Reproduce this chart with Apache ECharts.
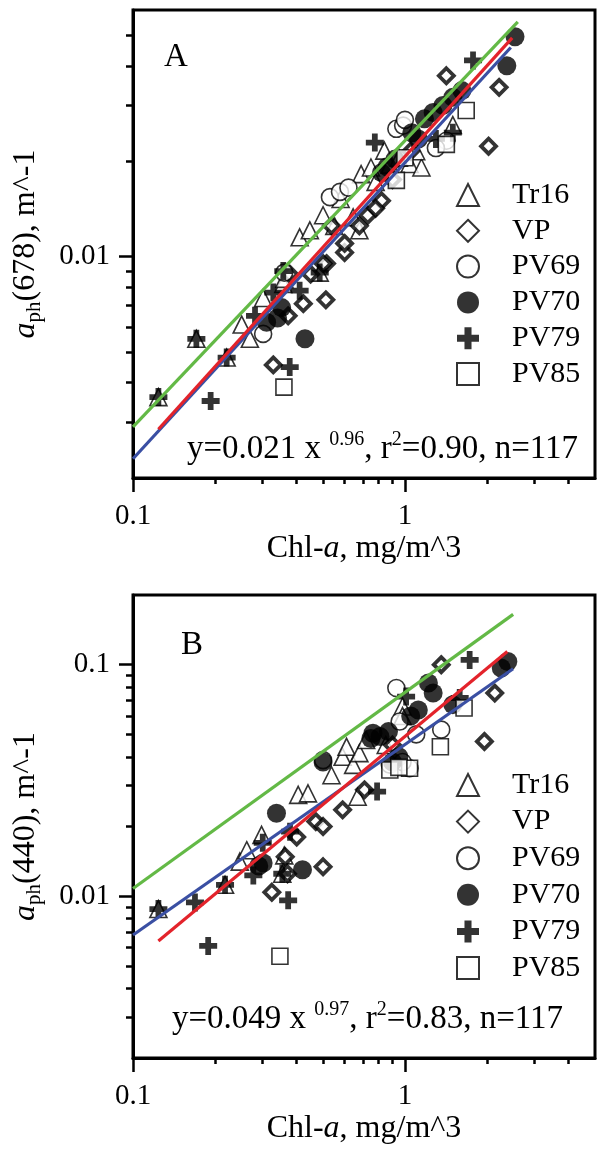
<!DOCTYPE html>
<html>
<head>
<meta charset="utf-8">
<script src="https://cdn.jsdelivr.net/npm/echarts@6/dist/echarts.min.js"></script>
<style>
  html, body { margin: 0; padding: 0; background: #fff; }
  #chart { width: 598px; height: 1151px; }
</style>
</head>
<body>
<div id="chart"></div>
<script>
// ---- axis ticks -------------------------------------------------------
const xMajorTicks = [0.1, 1];
const xMinorTicks = [0.2, 0.3, 0.4, 0.5, 0.6, 0.7, 0.8, 0.9, 2, 3, 4];
const yMajorTicksA = [0.01];
const yMinorTicksA = [0.003, 0.004, 0.005, 0.006, 0.007, 0.008, 0.009, 0.02, 0.03, 0.04, 0.05];
const yMajorTicksB = [0.01, 0.1];
const yMinorTicksB = [0.003, 0.004, 0.005, 0.006, 0.007, 0.008, 0.009,
                      0.02, 0.03, 0.04, 0.05, 0.06, 0.07, 0.08, 0.09];

// ---- panel A: aph(678) vs Chl-a ----------------------------------------
const tr16A = [[0.124,0.0036],[0.171,0.0055],[0.221,0.0048],[0.251,0.0061],[0.269,0.0055],
  [0.301,0.0074],[0.357,0.0082],[0.486,0.0089],[0.41,0.0115],[0.447,0.0121],[0.645,0.0133],
  [0.68,0.0121],[0.69,0.0182],[0.75,0.0191],[0.84,0.0216],[1.04,0.0196],[1.15,0.0191],
  [0.55,0.0125],[0.88,0.0195],[0.95,0.0205],[0.5,0.0135],[0.36,0.0085],[0.58,0.0152],[1.1,0.0215],
  [0.78,0.0172],[1.5,0.026]];
const vpA = [[0.328,0.00455],[0.372,0.0065],[0.377,0.0088],[0.423,0.0071],[0.512,0.0073],
  [0.515,0.0095],[0.6,0.0103],[0.5,0.0095],[0.537,0.0125],[0.6,0.011],[0.73,0.0135],
  [0.82,0.015],[1.42,0.0372],[2.22,0.0342],[2.03,0.0223],[0.45,0.0088],[0.9,0.0175],
  [1.05,0.0215],[0.68,0.0125],[0.78,0.0142]];
const pv69A = [[0.301,0.0057],[0.53,0.0154],[0.577,0.016],[0.62,0.0165],[0.93,0.0253],
  [0.985,0.0259],[1.42,0.0232],[1.0,0.027],[0.36,0.0089],[1.3,0.022]];
const pv70A = [[0.31,0.0062],[0.352,0.0069],[0.429,0.0055],[0.82,0.0184],[0.92,0.0203],
  [1.06,0.0246],[1.18,0.0272],[1.27,0.0285],[1.38,0.030],[1.5,0.0318],[1.62,0.0334],
  [2.37,0.040],[2.54,0.0494],[0.34,0.0064],[1.12,0.0235],[0.86,0.0192]];
const pv79A = [[0.124,0.0036],[0.171,0.0055],[0.193,0.0035],[0.221,0.0048],[0.281,0.0065],
  [0.328,0.0077],[0.357,0.009],[0.41,0.0078],[0.377,0.00448],[0.486,0.0089],[0.775,0.0229],
  [1.5,0.0246],[1.78,0.0416],[1.3,0.0235]];
const pv85A = [[0.359,0.00387],[1.68,0.0289],[1.42,0.0226],[0.93,0.0174],[1.0,0.0205]];
// regression / reference lines, end points
const greenA = [[0.1,0.0029],[2.6,0.055]];
const redA   = [[0.124,0.00285],[2.48,0.049]];
const blueA  = [[0.1,0.0023],[2.45,0.0457]];

// ---- panel B: aph(440) vs Chl-a ----------------------------------------
const tr16B = [[0.124,0.0088],[0.218,0.0112],[0.247,0.0141],[0.262,0.0158],[0.297,0.0184],
  [0.354,0.0125],[0.405,0.0274],[0.44,0.0278],[0.537,0.0333],[0.59,0.040],[0.61,0.0442],
  [0.645,0.0369],[0.67,0.0269],[0.68,0.0415],[0.72,0.0473],[0.98,0.066],[0.85,0.045],
  [0.36,0.015],[0.98,0.06]];
const vpB = [[0.324,0.0104],[0.363,0.0148],[0.5,0.0134],[0.47,0.021],[0.5,0.02],[0.59,0.0236],
  [0.71,0.0288],[1.36,0.1],[2.14,0.0754],[1.96,0.0466],[0.4,0.018],[0.37,0.0125],[0.9,0.045]];
const pv69B = [[0.5,0.0387],[0.93,0.0793],[0.956,0.0568],[1.36,0.0524],[0.88,0.037],
  [1.04,0.0357],[1.1,0.05],[0.98,0.038]];
const pv70B = [[0.301,0.0139],[0.337,0.0228],[0.42,0.013],[0.5,0.038],[0.763,0.0506],
  [0.81,0.0489],[0.87,0.0514],[1.12,0.0637],[1.22,0.0833],[1.27,0.0754],[1.5,0.0672],
  [2.26,0.0967],[2.39,0.1033],[0.29,0.0135],[0.75,0.048],[0.9,0.038],[0.95,0.04],[1.05,0.06]];
const pv79B = [[0.124,0.0088],[0.169,0.0094],[0.189,0.0061],[0.218,0.0112],[0.277,0.0123],
  [0.354,0.0125],[0.372,0.0096],[0.378,0.019],[0.79,0.0283],[1.01,0.0728],[1.59,0.0718],
  [1.73,0.1048],[0.3,0.017]];
const pv85B = [[0.347,0.0055],[1.35,0.0442],[1.65,0.065],[0.88,0.0351],[1.04,0.0357],[0.95,0.036]];
const greenB = [[0.1,0.0108],[2.5,0.165]];
const redB   = [[0.124,0.0064],[2.38,0.114]];
const blueB  = [[0.1,0.0068],[2.5,0.096]];

const seriesNames = ['Tr16', 'VP', 'PV69', 'PV70', 'PV79', 'PV85'];
const eqA = ['y=0.021 x ', '0.96', ', r', '2', '=0.90, n=117'];
const eqB = ['y=0.049 x ', '0.97', ', r', '2', '=0.83, n=117'];

// ---- styling ----------------------------------------------------------
const SERIF = 'Liberation Serif';
const PLUS = 'path://M34,0H66V34H100V66H66V100H34V66H0V34H34Z';
const markerStyle = {
  Tr16: { symbol: 'triangle', symbolSize: 17, itemStyle: { color: '#fff', borderColor: '#000', borderWidth: 1.6 } },
  VP:   { symbol: 'diamond',  symbolSize: 15, itemStyle: { color: '#fff', borderColor: '#000', borderWidth: 3.8 } },
  PV69: { symbol: 'circle',   symbolSize: 17, itemStyle: { color: '#fff', borderColor: '#000', borderWidth: 1.6 } },
  PV70: { symbol: 'circle',   symbolSize: 19, itemStyle: { color: '#000', borderWidth: 0 } },
  PV79: { symbol: PLUS,       symbolSize: 18, itemStyle: { color: '#000', borderWidth: 0 } },
  PV85: { symbol: 'rect',     symbolSize: 16, itemStyle: { color: '#fff', borderColor: '#000', borderWidth: 1.6 } }
};
const lineColor = { green: '#63b946', red: '#e3232b', blue: '#3a4fa3' };

function scatter(name, data, axisIdx) {
  const s = markerStyle[name];
  return {
    name, type: 'scatter', data,
    xAxisIndex: axisIdx, yAxisIndex: axisIdx,
    symbol: s.symbol, symbolSize: s.symbolSize, itemStyle: s.itemStyle,
    symbolKeepAspect: true, z: 2, silent: true
  };
}
function fitLine(id, data, color, axisIdx) {
  return {
    name: id, type: 'line', data, xAxisIndex: axisIdx, yAxisIndex: axisIdx,
    showSymbol: false, symbol: 'none', z: 4, silent: true,
    lineStyle: { color, width: 3.2 }
  };
}

const nameRich = {
  n: { fontFamily: SERIF, fontSize: 32, color: '#000', lineHeight: 38, verticalAlign: 'middle' },
  i: { fontFamily: SERIF, fontSize: 32, color: '#000', fontStyle: 'italic', lineHeight: 38, verticalAlign: 'middle' },
  s: { fontFamily: SERIF, fontSize: 21, color: '#000', lineHeight: 22, verticalAlign: 'bottom' }
};

function xAxes(grid) {
  return [
    { type: 'log', logBase: 10, gridIndex: grid, min: 0.1, max: 5, position: 'bottom',
      name: '{n|Chl-}{i|a}{n|, mg/m^3}', nameLocation: 'middle', nameGap: 52,
      nameTextStyle: { rich: nameRich },
      axisLine: { show: true, lineStyle: { color: '#000', width: 3 } },
      axisTick: { show: true, inside: false, length: 14, customValues: xMajorTicks, lineStyle: { color: '#000', width: 2.5 } },
      axisLabel: { show: true, customValues: xMajorTicks, margin: 24, fontFamily: SERIF, fontSize: 29, color: '#000',
        formatter: v => String(v) },
      splitLine: { show: false }, minorTick: { show: false } },
    { type: 'log', logBase: 10, gridIndex: grid, min: 0.1, max: 5, position: 'bottom',
      axisLine: { show: false },
      axisTick: { show: true, inside: false, length: 6, customValues: xMinorTicks, lineStyle: { color: '#000', width: 2.5 } },
      axisLabel: { show: false }, splitLine: { show: false } }
  ];
}
function yAxes(grid, maxV, major, minor, title) {
  return [
    { type: 'log', logBase: 10, gridIndex: grid, min: 0.002, max: maxV, position: 'left',
      name: title, nameLocation: 'middle', nameGap: 88,
      nameTextStyle: { rich: nameRich },
      axisLine: { show: true, lineStyle: { color: '#000', width: 3 } },
      axisTick: { show: true, inside: false, length: 14, customValues: major, lineStyle: { color: '#000', width: 2.5 } },
      axisLabel: { show: true, customValues: major, margin: 23, fontFamily: SERIF, fontSize: 29, color: '#000',
        formatter: v => String(v) },
      splitLine: { show: false } },
    { type: 'log', logBase: 10, gridIndex: grid, min: 0.002, max: maxV, position: 'left',
      axisLine: { show: false },
      axisTick: { show: true, inside: false, length: 7, customValues: minor, lineStyle: { color: '#000', width: 2.5 } },
      axisLabel: { show: false }, splitLine: { show: false } }
  ];
}

function legendAt(top, gap) {
  return {
    data: seriesNames, orient: 'vertical', left: 456, top,
    itemWidth: 22, itemHeight: 22, itemGap: gap, selectedMode: false,
    padding: 0,
    textStyle: { fontFamily: SERIF, fontSize: 30, color: '#000', lineHeight: 30, padding: [0, 0, 0, 28] }
  };
}

const eqRich = {
  n:  { fontFamily: SERIF, fontSize: 33, fill: '#000', lineHeight: 36, verticalAlign: 'bottom' },
  sp: { fontFamily: SERIF, fontSize: 20, fill: '#000', lineHeight: 36, verticalAlign: 'top' }
};
function eqText(parts, x, y) {
  return {
    type: 'text', x, y, silent: true,
    style: {
      text: '{n|' + parts[0] + '}{sp|' + parts[1] + '}{n|' + parts[2] + '}{sp|' + parts[3] + '}{n|' + parts[4] + '}',
      rich: eqRich, verticalAlign: 'middle', align: 'left'
    }
  };
}
function panelLabel(t, x, y) {
  return { type: 'text', x, y, silent: true,
    style: { text: t, fontFamily: SERIF, fontSize: 33, fill: '#000', align: 'center', verticalAlign: 'middle' } };
}

const chart = echarts.init(document.getElementById('chart'), null, { renderer: 'canvas' });
chart.setOption({
  animation: false,
  backgroundColor: '#fff',
  grid: [
    { left: 133, top: 10, width: 462, height: 468, show: true, borderColor: '#000', borderWidth: 3, backgroundColor: 'transparent' },
    { left: 133, top: 595, width: 462, height: 463, show: true, borderColor: '#000', borderWidth: 3, backgroundColor: 'transparent' }
  ],
  xAxis: [...xAxes(0), ...xAxes(1)],
  yAxis: [
    ...yAxes(0, 0.06, yMajorTicksA, yMinorTicksA, '{i|a}{s|ph}{n|(678), m^-1}'),
    ...yAxes(1, 0.2, yMajorTicksB, yMinorTicksB, '{i|a}{s|ph}{n|(440), m^-1}')
  ],
  legend: [legendAt(180, 5.8), legendAt(770, 6.6)],
  series: [
    scatter('Tr16', tr16A, 0), scatter('VP', vpA, 0), scatter('PV69', pv69A, 0),
    scatter('PV70', pv70A, 0), scatter('PV79', pv79A, 0), scatter('PV85', pv85A, 0),
    fitLine('fitA-blue', blueA, lineColor.blue, 0),
    fitLine('fitA-red', redA, lineColor.red, 0),
    fitLine('fitA-green', greenA, lineColor.green, 0),
    scatter('Tr16', tr16B, 2), scatter('VP', vpB, 2), scatter('PV69', pv69B, 2),
    scatter('PV70', pv70B, 2), scatter('PV79', pv79B, 2), scatter('PV85', pv85B, 2),
    fitLine('fitB-blue', blueB, lineColor.blue, 2),
    fitLine('fitB-red', redB, lineColor.red, 2),
    fitLine('fitB-green', greenB, lineColor.green, 2)
  ],
  graphic: [
    panelLabel('A', 176, 57),
    panelLabel('B', 192, 645),
    eqText(eqA, 187, 448),
    eqText(eqB, 172, 1018)
  ]
});
</script>
</body>
</html>
